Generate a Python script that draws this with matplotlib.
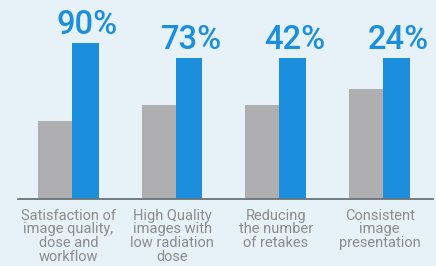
import numpy as np
import matplotlib
matplotlib.use("Agg")
import matplotlib.pyplot as plt

# bar heights (blue 90% bar = 100)
categories = ["Satisfaction of\nimage quality,\ndose and\nworkflow",
              "High Quality\nimages with\nlow radiation\ndose",
              "Reducing\nthe number\nof retakes",
              "Consistent\nimage\npresentation"]
gray_vals = [50, 60, 60, 70.5]
blue_vals = [100, 90.5, 90.5, 90.5]
pct_labels = ["90%", "73%", "42%", "24%"]

bg = "#e6f2f7"
fig = plt.figure(figsize=(4.36, 2.66), dpi=100, facecolor=bg)
ax = fig.add_axes([18 / 436, 67 / 266, 415 / 436, 199 / 266])
ax.set_facecolor(bg)

x = np.arange(len(categories))
gw, bw = 0.328, 0.257
ax.bar(x - 0.294, gray_vals, width=gw, align="edge", color="#afafb2", zorder=2)
ax.bar(x - 0.294 + gw, blue_vals, width=bw, align="edge", color="#1b8ede", zorder=2)

for xi, v, lab in zip(x, blue_vals, pct_labels):
    ax.annotate(lab, (xi - 0.294 + gw + bw / 2 + 0.02, v), xytext=(0, 1.5),
                textcoords="offset points", ha="center", va="bottom",
                fontsize=23.5, fontweight="medium", color="#1b8ede",
                family=["Roboto", "DejaVu Sans"])

ax.set_xlim(-0.487, 3.515)
ax.set_ylim(0, 127.6)
for s in ["top", "right", "left"]:
    ax.spines[s].set_visible(False)
ax.spines["bottom"].set_color("#6b7378")
ax.spines["bottom"].set_linewidth(1.3)
ax.set_yticks([])
ax.set_xticks(x)
ax.set_xticklabels(categories, fontsize=10.5, color="#8c8c8c",
                   family=["Roboto", "DejaVu Sans"], linespacing=0.97)
ax.tick_params(axis="x", length=0, pad=7)

fig.savefig("out.png", dpi=100, facecolor=bg)
